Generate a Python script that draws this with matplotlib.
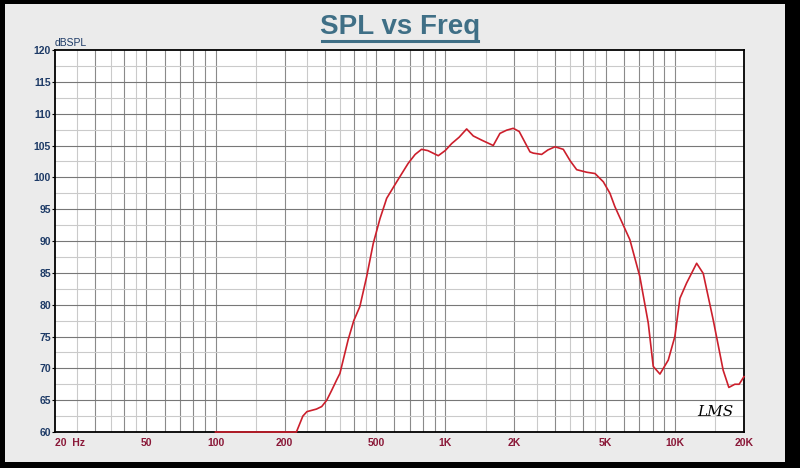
import matplotlib
matplotlib.use("Agg")
from matplotlib import pyplot as plt
from matplotlib.patches import Rectangle
from matplotlib.lines import Line2D

freq = [100, 150, 200, 225, 240, 250, 275, 290, 305, 320, 337, 348, 378, 400,
        425, 455, 486, 520, 547, 556, 615, 690, 740, 789, 840, 933, 1000, 1067,
        1150, 1240, 1325, 1450, 1619, 1731, 1850, 1978, 2100, 2340, 2419, 2630,
        2800, 3007, 3267, 3500, 3737, 4130, 4490, 4880, 5215, 5480, 6370, 7040,
        7660, 8050, 8610, 9360, 10000, 10520, 11250, 12440, 13290, 14690, 16230,
        17180, 18240, 19050, 20000]
spl = [60, 60, 60, 60, 62.5, 63.2, 63.6, 64.0, 65.0, 66.5, 68.2, 69.2, 74.5, 77.5,
       79.7, 84.4, 89.6, 93.5, 95.9, 96.7, 99.3, 102.2, 103.6, 104.4, 104.2, 103.4,
       104.2, 105.3, 106.3, 107.6, 106.5, 105.8, 105.0, 106.9, 107.4, 107.7, 107.2,
       104.0, 103.8, 103.6, 104.3, 104.8, 104.4, 102.6, 101.2, 100.8, 100.6, 99.3,
       97.5, 95.4, 90.2, 84.4, 77.1, 70.3, 69.1, 71.3, 75.0, 81.0, 83.4, 86.5, 84.9,
       77.6, 69.7, 67.0, 67.5, 67.5, 68.7]

x_ticks = [20, 50, 100, 200, 500, 1000, 2000, 5000, 10000, 20000]
x_labels = ["20  Hz", "50", "100", "200", "500", "1K", "2K", "5K", "10K", "20K"]
y_ticks = [60, 65, 70, 75, 80, 85, 90, 95, 100, 105, 110, 115, 120]

grid_main = [1, 2, 3, 4, 5, 6, 7, 8, 9]
grid_half = [1.5, 2.5, 3.5, 4.5]
decades = [10, 100, 1000, 10000]

fig = plt.figure(figsize=(8, 4.68), dpi=100)
fig.patch.set_facecolor("black")
fig.add_artist(Rectangle((5 / 800, 6 / 468), 780 / 800, 458 / 468,
                         transform=fig.transFigure, facecolor="#ebebeb",
                         edgecolor="none", zorder=0))

ax = fig.add_axes([55 / 800, 36 / 468, 689 / 800, 382 / 468])
ax.set_facecolor("white")
ax.set_xscale("log")
ax.set_xlim(20, 20000)
ax.set_ylim(60, 120)

for d in decades:
    for m in grid_half:
        f = d * m
        if 20 < f < 20000:
            ax.axvline(f, color="#cacaca", lw=0.8, zorder=1)
    for m in grid_main:
        f = d * m
        if 20 < f < 20000:
            ax.axvline(f, color="#8a8a8a", lw=0.8, zorder=1)
for v in range(60, 120, 5):
    ax.axhline(v + 2.5, color="#cacaca", lw=0.8, zorder=1)
for v in y_ticks[1:-1]:
    ax.axhline(v, color="#777777", lw=0.8, zorder=1)

ax.plot(freq, spl, color="#cc1f2c", lw=1.2, zorder=5, clip_on=False)

ax.set_xticks(x_ticks)
ax.set_xticklabels(x_labels)
ax.xaxis.set_minor_locator(matplotlib.ticker.NullLocator())
ax.set_yticks(y_ticks)
ax.set_yticklabels([str(v) for v in y_ticks])
ax.tick_params(axis="x", length=0, pad=4, labelsize=7.5, labelcolor="#8a1838")
ax.tick_params(axis="y", length=2, pad=1, labelsize=7.5, labelcolor="#1d3a66")
for lab in ax.get_xticklabels() + ax.get_yticklabels():
    lab.set_family("Liberation Sans")
    lab.set_fontweight("bold")
first = ax.get_xticklabels()[0]
first.set_horizontalalignment("left")

for s in ax.spines.values():
    s.set_color("black")
    s.set_linewidth(1.3)
    s.set_zorder(4)

ax.text(0.0, 1.005, "dBSPL", transform=ax.transAxes, ha="left", va="bottom",
        fontsize=7.5, color="#1d3a66", family="Liberation Sans")
ax.text(0.985, 0.035, "LMS", transform=ax.transAxes, ha="right", va="bottom",
        fontsize=11, fontstyle="italic", family="DejaVu Serif", color="black")

fig.text(0.5, 1 - 27 / 468, "SPL vs Freq", ha="center", va="center",
         fontsize=20, fontweight="bold", color="#3f6f86", family="Liberation Sans")
fig.add_artist(Line2D([322 / 800, 478 / 800], [1 - 41 / 468, 1 - 41 / 468],
                      transform=fig.transFigure, color="#3f6f86", lw=2.2))

fig.savefig("out.png", dpi=100, facecolor=fig.get_facecolor())
